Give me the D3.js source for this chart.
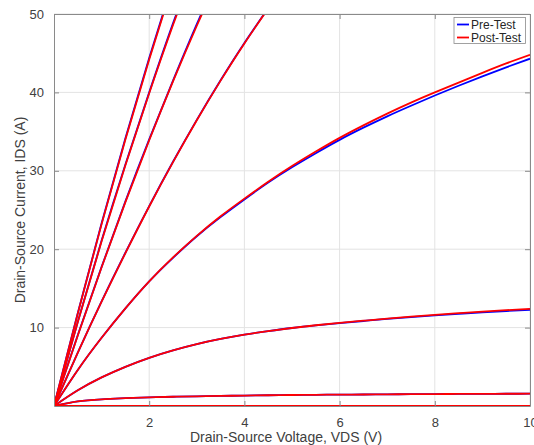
<!DOCTYPE html>
<html>
<head>
<meta charset="utf-8">
<script src="https://cdn.jsdelivr.net/npm/d3@7"></script>
<style>
body{margin:0;background:#fff}
text{font-family:"Liberation Sans",Arial,sans-serif}
</style>
</head>
<body>
<svg id="chart" width="534" height="445"></svg>
<script>
// voltage points for the saturating curves
var vds = [0,0.5,1,1.5,2,2.5,3,3.5,4,4.5,5,5.5,6,6.5,7,7.5,8,8.5,9,9.5,10];
// voltage points for the steep (linear region) curves
var vSteep = [0,0.5,1,1.5,2,2.5,3,3.5,4,4.5];

var pre1 = [0,11.85,23.3,34.15,44.4,54.1];
var post1 = [0,11.8,23.2,34.0,44.2,53.9];
var pre2 = [0,10.75,21.1,30.8,40.0,48.8,57.0];
var post2 = [0,10.7,21.0,30.7,39.9,48.6,56.8];
var pre3 = [0,9.05,17.75,26.1,34.0,41.5,48.7,55.5];
var post3 = [0,9.0,17.7,26.0,33.9,41.4,48.5,55.3];
var pre4 = [0,6.82,13.35,19.55,25.5,31.15,36.5,41.55,46.3,50.75];
var post4 = [0,6.8,13.3,19.5,25.45,31.1,36.45,41.5,46.25,50.7];

var pre5 = [0,4.6,8.7,12.45,15.9,18.9,21.65,24.1,26.35,28.5,30.45,32.25,33.95,35.5,36.95,38.3,39.6,40.85,42.05,43.2,44.3];
var post5 = [0,4.6,8.7,12.45,15.9,18.95,21.7,24.2,26.45,28.6,30.6,32.45,34.2,35.8,37.3,38.7,40.0,41.25,42.5,43.7,44.8];
var pre6 = [0,2.0,3.65,5.0,6.15,7.1,7.9,8.55,9.1,9.55,9.95,10.28,10.57,10.84,11.1,11.34,11.56,11.76,11.95,12.12,12.28];
var post6 = [0,2.0,3.65,5.0,6.15,7.1,7.9,8.55,9.1,9.55,9.95,10.3,10.6,10.88,11.15,11.4,11.63,11.84,12.04,12.22,12.4];
var pre7 = [0,0.6,0.85,1.0,1.1,1.18,1.24,1.29,1.33,1.37,1.4,1.43,1.45,1.47,1.49,1.51,1.52,1.54,1.55,1.56,1.57];
var post7 = [0,0.6,0.85,1.0,1.1,1.18,1.24,1.29,1.33,1.37,1.4,1.43,1.45,1.47,1.49,1.51,1.52,1.54,1.55,1.56,1.57];
var pre8 = [0,0,0,0,0,0,0,0,0,0,0,0,0,0,0,0,0,0,0,0,0];
var post8 = [0,0,0,0,0,0,0,0,0,0,0,0,0,0,0,0,0,0,0,0,0];

var xTicks = [2,4,6,8,10];
var yTicks = [10,20,30,40,50];
var legendLabels = ["Pre-Test","Post-Test"];
var colors = ["#0000ff","#ff0000"];

var svg = d3.select("#chart");
var pLeft = 54, pRight = 530, pTop = 14, pBottom = 406;

var x = d3.scaleLinear().domain([0,10]).range([pLeft,pRight]);
var y = d3.scaleLinear().domain([0,50]).range([pBottom,pTop]);

// grid
svg.append("g").selectAll("line").data(xTicks).join("line")
    .attr("x1", d=>x(d)).attr("x2", d=>x(d))
    .attr("y1", pTop).attr("y2", pBottom)
    .attr("stroke", "#e3e3e3").attr("stroke-width", 1);
svg.append("g").selectAll("line").data(yTicks).join("line")
    .attr("x1", pLeft).attr("x2", pRight)
    .attr("y1", d=>y(d)).attr("y2", d=>y(d))
    .attr("stroke", "#e3e3e3").attr("stroke-width", 1);

svg.append("clipPath").attr("id", "clip")
    .append("rect").attr("x", pLeft).attr("y", pTop)
    .attr("width", pRight-pLeft).attr("height", pBottom-pTop);

var plot = svg.append("g").attr("clip-path", "url(#clip)");
var line = d3.line().x(d=>x(d[0])).y(d=>y(d[1])).curve(d3.curveNatural);

function zipped(vs, is){
    return is.map((v,i)=>[vs[i], v]);
}

var preSeries = [[vSteep,pre1],[vSteep,pre2],[vSteep,pre3],[vSteep,pre4],[vds,pre5],[vds,pre6],[vds,pre7],[vds,pre8]];
var postSeries = [[vSteep,post1],[vSteep,post2],[vSteep,post3],[vSteep,post4],[vds,post5],[vds,post6],[vds,post7],[vds,post8]];

[preSeries, postSeries].forEach((set, k) => {
    set.forEach(s => {
        plot.append("path")
            .attr("d", line(zipped(s[0], s[1])))
            .attr("fill", "none")
            .attr("stroke", colors[k])
            .attr("stroke-width", 1.8);
    });
});

// axes, matlab style box with inward ticks
var axisColor = "#8a8a8a";
var textColor = "#404040";
var bottomAxis = svg.append("g").attr("transform", `translate(0,${pBottom})`)
    .call(d3.axisBottom(x).tickValues(xTicks).tickSizeInner(-5).tickSizeOuter(0).tickPadding(12));
var leftAxis = svg.append("g").attr("transform", `translate(${pLeft},0)`)
    .call(d3.axisLeft(y).tickValues(yTicks).tickSizeInner(-5).tickSizeOuter(0).tickPadding(10));
var topAxis = svg.append("g").attr("transform", `translate(0,${pTop})`)
    .call(d3.axisTop(x).tickValues(xTicks).tickSizeInner(-5).tickSizeOuter(0).tickFormat(""));
var rightAxis = svg.append("g").attr("transform", `translate(${pRight},0)`)
    .call(d3.axisRight(y).tickValues(yTicks).tickSizeInner(-5).tickSizeOuter(0).tickFormat(""));

[bottomAxis, leftAxis, topAxis, rightAxis].forEach(a => {
    a.select(".domain").attr("stroke", axisColor);
    a.selectAll(".tick line").attr("stroke", axisColor);
    a.selectAll(".tick text").attr("fill", textColor).style("font-size", "13px")
        .style("font-family", '"Liberation Sans",Arial,sans-serif');
});

svg.append("text")
    .attr("x", 286).attr("y", 442)
    .attr("text-anchor", "middle")
    .attr("fill", textColor)
    .style("font-size", "14px")
    .text("Drain-Source Voltage, VDS (V)");

svg.append("text")
    .attr("transform", "translate(25,210) rotate(-90)")
    .attr("text-anchor", "middle")
    .attr("fill", textColor)
    .style("font-size", "14px")
    .text("Drain-Source Current, IDS (A)");

// legend
var legend = svg.append("g");
legend.append("rect")
    .attr("x", 454).attr("y", 17.5).attr("width", 71.5).attr("height", 26)
    .attr("fill", "#fff").attr("stroke", "#8a8a8a").attr("stroke-width", 0.8);
legendLabels.forEach((lab, i) => {
    legend.append("line")
        .attr("x1", 457).attr("x2", 469)
        .attr("y1", 24.5 + i*13).attr("y2", 24.5 + i*13)
        .attr("stroke", colors[i]).attr("stroke-width", 1.8);
    legend.append("text")
        .attr("x", 471).attr("y", 28.7 + i*13)
        .attr("fill", "#262626")
        .style("font-size", "12px")
        .text(lab);
});
</script>
</body>
</html>
